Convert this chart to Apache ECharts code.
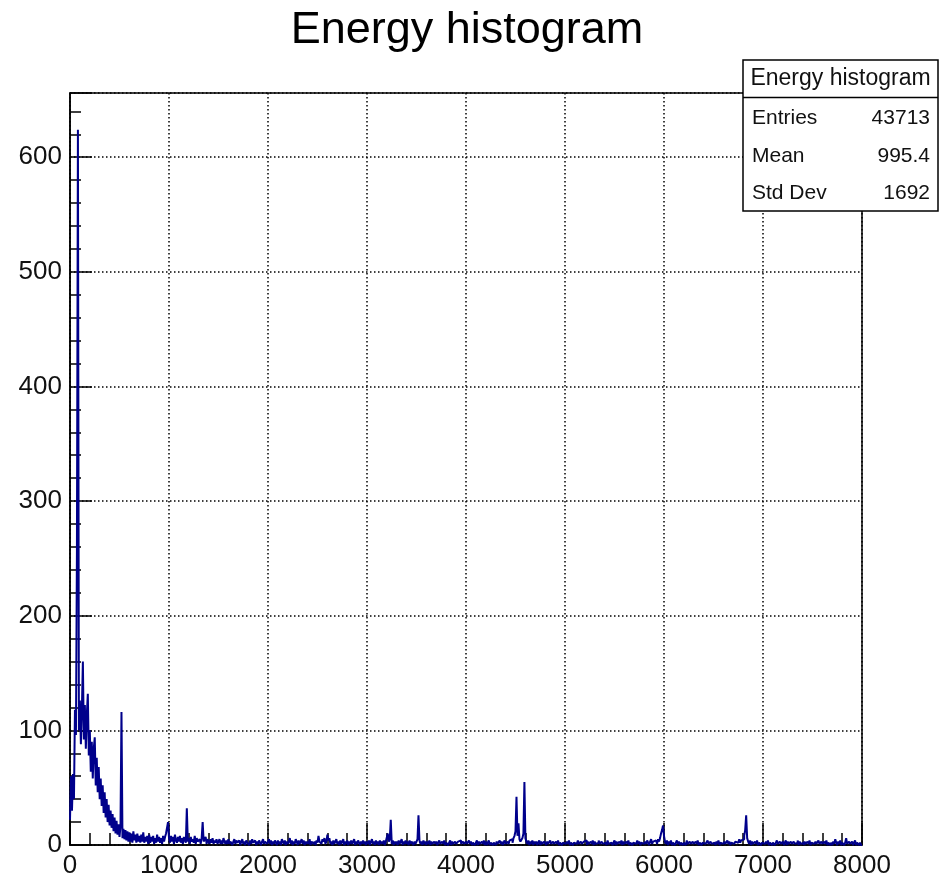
<!DOCTYPE html>
<html>
<head>
<meta charset="utf-8">
<title>Energy histogram</title>
<script src="https://cdn.jsdelivr.net/npm/echarts@6/dist/echarts.min.js"></script>
<style>
  html, body { margin: 0; padding: 0; background: #ffffff; }
  #chart { width: 940px; height: 882px; }
</style>
</head>
<body>
<div id="chart"></div>
<script>
// Histogram binning: 800 bins of width 10 from 0 to 8000
const binWidth = 10;
const xMin = 0;
const xMax = 8000;
const yMax = 656;

// Bin contents, 0 - 990
const lowEnergyCounts = [
  22, 60, 30, 62, 40, 118, 96, 257, 624, 100,
  126, 88, 118, 160, 92, 122, 84, 114, 132, 78,
  100, 64, 90, 58, 84, 94, 52, 76, 46, 68,
  40, 58, 34, 52, 28, 46, 24, 40, 20, 35,
  17, 30, 15, 27, 12, 24, 10, 21, 9, 18,
  7, 16, 116, 6, 14, 5, 13, 4, 12, 3,
  11, 3, 10, 2, 12, 4, 9, 2, 10, 3,
  8, 2, 9, 3, 11, 2, 7, 3, 8, 1,
  9, 2, 7, 3, 8, 1, 6, 2, 9, 3,
  7, 2, 6, 1, 8, 3, 7, 10, 9, 20
];

// Bin contents, 1000 - 3990
const midEnergyCounts = [
  6, 2, 8, 3, 7, 1, 9, 4, 2, 7,
  3, 8, 2, 6, 1, 7, 4, 2, 32, 3,
  6, 1, 7, 3, 5, 2, 8, 1, 6, 3,
  2, 5, 1, 6, 20, 3, 2, 7, 1, 5,
  4, 1, 5, 2, 6, 1, 4, 2, 5, 1,
  3, 5, 1, 4, 1, 6, 3, 1, 4, 1,
  5, 1, 3, 4, 0, 3, 5, 1, 4, 2,
  1, 4, 0, 3, 5, 1, 3, 0, 4, 2,
  3, 0, 4, 1, 5, 2, 3, 4, 0, 3,
  1, 4, 3, 0, 3, 5, 1, 3, 4, 1,
  3, 5, 1, 4, 0, 3, 1, 4, 3, 0,
  4, 1, 3, 0, 5, 3, 1, 4, 0, 3,
  1, 3, 6, 1, 4, 0, 3, 1, 5, 3,
  0, 4, 1, 3, 5, 1, 4, 0, 3, 1,
  3, 1, 5, 0, 3, 4, 1, 3, 0, 4,
  2, 8, 3, 4, 1, 5, 3, 6, 1, 3,
  9, 4, 6, 1, 3, 0, 4, 1, 3, 5,
  1, 3, 0, 4, 1, 3, 5, 0, 3, 1,
  4, 0, 3, 1, 4, 1, 3, 5, 0, 3,
  1, 4, 3, 0, 3, 1, 4, 1, 3, 0,
  3, 1, 4, 0, 3, 5, 1, 3, 0, 4,
  1, 3, 0, 4, 1, 3, 1, 4, 0, 3,
  4, 10, 3, 5, 22, 1, 4, 0, 3, 1,
  3, 0, 4, 1, 3, 5, 0, 3, 1, 4,
  1, 3, 0, 4, 1, 3, 4, 0, 3, 1,
  3, 5, 26, 4, 1, 3, 0, 4, 1, 3,
  0, 3, 1, 4, 0, 3, 1, 0, 3, 1,
  3, 0, 2, 4, 1, 0, 3, 1, 4, 0,
  2, 3, 0, 2, 4, 0, 3, 1, 0, 3,
  1, 0, 3, 2, 4, 1, 0, 3, 1, 0
];

// Bin contents, 4000 - 7990
const highEnergyCounts = [
  3, 1, 0, 4, 1, 3, 0, 2, 3, 0,
  2, 4, 0, 3, 1, 0, 3, 1, 4, 0,
  3, 0, 2, 4, 0, 2, 3, 0, 2, 3,
  0, 3, 1, 0, 4, 1, 3, 0, 2, 4,
  1, 0, 3, 1, 4, 3, 5, 2, 6, 8,
  12, 42, 8, 19, 5, 3, 4, 6, 10, 55,
  6, 3, 1, 4, 0, 3, 1, 4, 0, 3,
  1, 3, 0, 2, 4, 0, 3, 1, 0, 3,
  2, 0, 3, 1, 0, 4, 1, 0, 3, 1,
  0, 3, 1, 4, 0, 2, 3, 0, 2, 3,
  1, 0, 3, 1, 4, 0, 2, 3, 0, 2,
  3, 1, 0, 4, 1, 0, 3, 1, 0, 3,
  2, 4, 0, 3, 1, 0, 3, 1, 4, 0,
  3, 1, 0, 2, 4, 1, 0, 3, 1, 0,
  2, 3, 0, 4, 1, 0, 2, 3, 0, 2,
  4, 0, 3, 1, 0, 3, 1, 4, 0, 3,
  1, 0, 3, 1, 4, 0, 2, 3, 0, 2,
  3, 1, 0, 4, 1, 3, 0, 2, 3, 1,
  0, 3, 1, 4, 2, 0, 3, 5, 1, 3,
  2, 4, 3, 1, 5, 3, 6, 10, 13, 17,
  8, 3, 1, 4, 0, 3, 1, 4, 0, 2,
  3, 0, 2, 4, 1, 3, 0, 2, 3, 0,
  2, 3, 0, 4, 1, 0, 3, 1, 0, 3,
  1, 0, 3, 1, 4, 0, 2, 3, 0, 2,
  3, 1, 0, 2, 4, 1, 0, 3, 1, 0,
  2, 3, 0, 3, 1, 4, 0, 2, 3, 1,
  0, 3, 1, 0, 4, 1, 3, 0, 2, 3,
  1, 0, 3, 4, 2, 3, 5, 2, 4, 3,
  5, 8, 13, 26, 6, 3, 1, 4, 0, 3,
  1, 0, 3, 1, 4, 0, 2, 3, 0, 2,
  3, 1, 0, 3, 1, 4, 0, 2, 3, 0,
  2, 3, 0, 2, 4, 1, 0, 3, 1, 0,
  3, 0, 2, 4, 0, 3, 1, 0, 3, 1,
  0, 3, 1, 0, 2, 4, 0, 3, 1, 0,
  2, 0, 3, 1, 0, 3, 1, 4, 0, 2,
  3, 1, 0, 3, 1, 0, 4, 1, 0, 3,
  1, 0, 3, 1, 4, 0, 2, 3, 0, 2,
  0, 3, 1, 5, 2, 0, 3, 1, 4, 0,
  2, 3, 0, 2, 6, 1, 0, 3, 1, 0,
  3, 0, 2, 4, 0, 2, 3, 0, 2, 0
];

// Statistics box contents
const histTitle = 'Energy histogram';
const statNames = ['Entries', 'Mean', 'Std Dev'];
const statValues = ['43713', '995.4', '1692'];

const counts = lowEnergyCounts.concat(midEnergyCounts, highEnergyCounts);
// Step outline: each point is [lower bin edge, content]; closing point at the upper edge
const stepData = counts.map((c, i) => [xMin + i * binWidth, c]);
stepData.push([xMin + counts.length * binWidth, counts[counts.length - 1]]);

const FONT = '"Liberation Sans", Arial, Helvetica, sans-serif';
const grid = { left: 70, top: 93, width: 792, height: 752 };

const statRowsY = [118, 156.5, 193.5];
const statGraphics = [];
statNames.forEach((name, i) => {
  statGraphics.push({
    type: 'text', z: 101,
    style: { text: name, x: 752, y: statRowsY[i], align: 'left', verticalAlign: 'middle',
             font: '21px ' + FONT, fill: '#111' }
  });
  statGraphics.push({
    type: 'text', z: 101,
    style: { text: statValues[i], x: 930, y: statRowsY[i], align: 'right', verticalAlign: 'middle',
             font: '21px ' + FONT, fill: '#111' }
  });
});

const plainNumber = v => String(v);

const chart = echarts.init(document.getElementById('chart'), null, { renderer: 'canvas' });
chart.setOption({
  animation: false,
  backgroundColor: '#ffffff',
  grid: {
    left: grid.left, top: grid.top, width: grid.width, height: grid.height,
    show: true, borderColor: '#000', borderWidth: 1.5, backgroundColor: 'transparent'
  },
  xAxis: {
    type: 'value', min: xMin, max: xMax, interval: 1000,
    axisLine: { show: true, onZero: false, lineStyle: { color: '#000', width: 1.5 } },
    axisTick: { show: true, inside: true, length: 22, lineStyle: { color: '#000', width: 1.5 } },
    minorTick: { show: true, splitNumber: 5, length: 12, lineStyle: { color: '#000', width: 1.5 } },
    axisLabel: { show: true, margin: 8, color: '#111', fontSize: 26, fontFamily: FONT, formatter: plainNumber },
    splitLine: { show: true, lineStyle: { color: '#000', width: 1.5, type: [1.5, 2.5] } }
  },
  yAxis: {
    type: 'value', min: 0, max: yMax, interval: 100,
    axisLine: { show: true, onZero: false, lineStyle: { color: '#000', width: 1.5 } },
    axisTick: { show: true, inside: true, length: 22, lineStyle: { color: '#000', width: 1.5 } },
    minorTick: { show: true, splitNumber: 5, length: 11, lineStyle: { color: '#000', width: 1.5 } },
    axisLabel: { show: true, margin: 8, color: '#111', fontSize: 26, fontFamily: FONT,
                 showMaxLabel: false, formatter: plainNumber },
    splitLine: { show: true, lineStyle: { color: '#000', width: 1.5, type: [1.5, 2.5] } }
  },
  series: [{
    type: 'line',
    data: stepData,
    step: 'end',
    showSymbol: false,
    symbol: 'none',
    clip: true,
    sampling: null,
    lineStyle: { color: '#00008b', width: 2 },
    z: 5
  }],
  graphic: [
    {
      type: 'text', z: 100,
      style: { text: histTitle, x: 467, y: 31, align: 'center', verticalAlign: 'middle',
               font: '45px ' + FONT, fill: '#000' }
    },
    {
      type: 'rect', z: 100,
      shape: { x: 743, y: 60, width: 195, height: 151 },
      style: { fill: '#ffffff', stroke: '#000', lineWidth: 1.5 }
    },
    {
      type: 'line', z: 101,
      shape: { x1: 743, y1: 97.5, x2: 938, y2: 97.5 },
      style: { stroke: '#000', lineWidth: 1.5 }
    },
    {
      type: 'text', z: 101,
      style: { text: histTitle, x: 840.5, y: 78.5, align: 'center', verticalAlign: 'middle',
               font: '23px ' + FONT, fill: '#111' }
    }
  ].concat(statGraphics)
});
</script>
</body>
</html>
